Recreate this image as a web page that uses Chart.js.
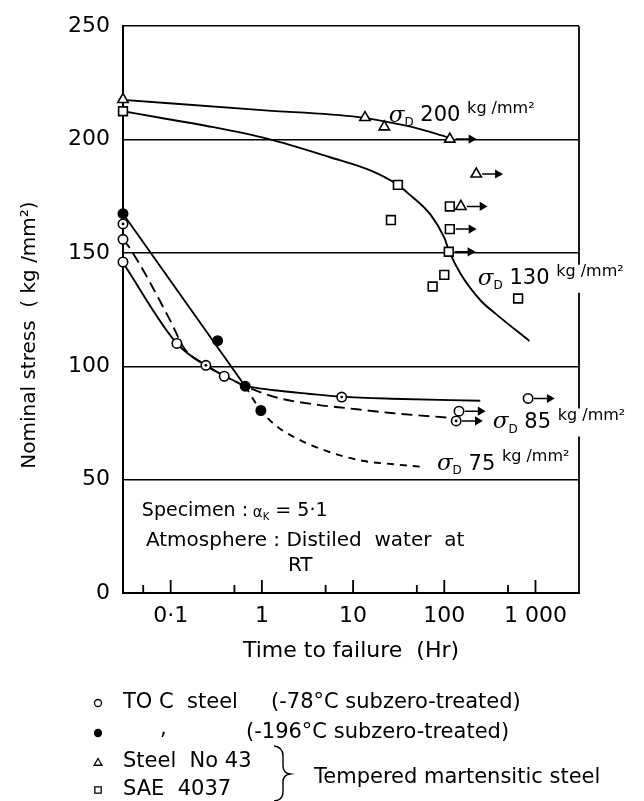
<!DOCTYPE html>
<html>
<head>
<meta charset="utf-8">
<title>Time to failure vs nominal stress</title>
<script src="https://cdn.jsdelivr.net/npm/chart.js@4.4.0/dist/chart.umd.min.js"></script>
<style>
  html, body { margin: 0; padding: 0; background: #fff; }
  #chart { display: block; }
</style>
</head>
<body>
<canvas id="chart" width="644" height="801"></canvas>
<script>
/* --------------- Axis ticks --------------------- */
const xTickValues = [0.1, 1, 10, 100, 1000];
const xTickLabels = ["0·1", "1", "10", "100", "1 000"];
const xMinorTicks = [0.05, 0.5, 5, 50, 500];

/* --------------- Measured points (time to failure Hr, stress kg/mm2) --------------------- */
// TO C steel, -78°C subzero-treated (open circles)
const toc78X = [0.03, 0.03, 0.117, 0.386, 830, 145];
const toc78Y = [156, 146, 110.1, 95.6, 85.8, 80.2];
const toc78Run = [0, 0, 0, 0, 1, 1];
// TO C steel, -196°C subzero-treated (filled circles)
const toc196X = [0.03, 0.327, 0.656, 0.975];
const toc196Y = [167.3, 111.3, 91.2, 80.5];
const toc196Run = [0, 0, 0, 0];
// both treatments at the same point (circle with a dot)
const tocBothX = [0.03, 0.243, 7.5, 135];
const tocBothY = [162.8, 100.4, 86.4, 75.9];
const tocBothRun = [0, 0, 0, 1];
// Steel No 43 (triangles)
const st43X = [0.03, 13.5, 22, 115, 224, 152];
const st43Y = [217.7, 209.7, 205.6, 200.2, 184.8, 170.5];
const st43Run = [0, 0, 0, 1, 1, 1];
// SAE 4037 (squares)
const saeX = [0.03, 31, 26, 115, 115, 112, 100, 74.5, 645];
const saeY = [212.5, 180, 164.5, 170.5, 160.5, 150.5, 140.3, 135.2, 129.9];
const saeRun = [0, 0, 0, 0, 1, 1, 0, 0, 0];

/* --------------- Drawn curves --------------------- */
const curve200X = [0.03, 1, 11.5, 25, 44, 109];
const curve200Y = [217.5, 213, 209.9, 207.6, 205.6, 201];
const curve130X = [0.03, 0.085, 0.25, 1.17, 5.6, 15.7, 31, 39.6, 71, 100, 113, 152, 252, 370, 856];
const curve130Y = [212.5, 209.3, 206, 200.3, 192.2, 186.3, 180, 176.5, 166.8, 156.7, 150.8, 140.6, 128.9, 123, 111.2];
const steep196X = [0.03, 0.656];
const steep196Y = [167.3, 91.2];
const tail196X = [0.656, 1.36, 3.2, 7.5, 26, 248];
const tail196Y = [91.2, 89.4, 87.9, 86.6, 85.7, 84.8];
const solid78X = [0.03, 0.117, 0.243, 0.4, 0.656];
const solid78Y = [145.6, 110, 100.4, 95.5, 91.2];
const dash85X = [0.03, 0.035, 0.1, 0.14, 0.243, 0.4, 0.656, 1.49, 4.1, 8.7, 26, 113];
const dash85Y = [156, 152.6, 119.8, 108, 100.4, 95.5, 91.2, 86.1, 83, 81.5, 79.4, 77.3];
const dash75X = [0.656, 0.975, 1.49, 2.7, 5.7, 13.2, 26, 55];
const dash75Y = [91.2, 80.5, 73.2, 67.2, 62, 58.2, 56.9, 55.7];

const FONT = "DejaVu Sans";
const pts = (xs, ys) => xs.map((x, i) => ({ x: x, y: ys[i] }));

/* --------------- Run-out arrows (not failed) --------------------- */
const arrowData = [];
[[toc78X, toc78Y, toc78Run], [toc196X, toc196Y, toc196Run], [tocBothX, tocBothY, tocBothRun],
 [st43X, st43Y, st43Run], [saeX, saeY, saeRun]].forEach(([xs, ys, run]) => {
  xs.forEach((x, i) => {
    if (!run[i]) return;
    arrowData.push({ x: x * 1.16, y: ys[i] }, { x: x * 1.72, y: ys[i] }, { x: x * 1.72, y: null });
  });
});

const curve = (xs, ys, dash) => ({
  data: pts(xs, ys), showLine: true, borderColor: "#000", borderWidth: 1.9,
  borderDash: dash || [], pointRadius: 0, cubicInterpolationMode: "monotone", order: 3
});
const marker = (xs, ys, style, fill, r) => ({
  data: pts(xs, ys), showLine: false, pointStyle: style, pointRadius: r, clip: false,
  backgroundColor: fill, borderColor: "#000", borderWidth: 1.6, order: 1
});

/* --------------- Text inside the plot --------------------- */
function drawRuns(ctx, x, y, runs, knockout) {
  ctx.textAlign = "left";
  ctx.textBaseline = "middle";
  let w = 0;
  runs.forEach(([t, f]) => { ctx.font = f; w += ctx.measureText(t).width; });
  if (knockout) { ctx.fillStyle = "#fff"; ctx.fillRect(x - 3, y - 14, w + 6, 28); }
  ctx.fillStyle = "#000";
  runs.forEach(([t, f, dy]) => { ctx.font = f; ctx.fillText(t, x, y + (dy || 0)); x += ctx.measureText(t).width; });
}
const sigmaRuns = (v) => [["σ", "italic 23px DejaVu Serif"], ["D", "12px " + FONT, 7],
  [" " + v + " ", "21px " + FONT], ["kg /mm²", "16px " + FONT, -7]];
const notes = [
  { x: 24.6, y: 210.5, runs: sigmaRuns("200") },
  { x: 233, y: 138.6, runs: sigmaRuns("130"), knockout: true },
  { x: 340, y: 75.2, runs: sigmaRuns("85"), knockout: true },
  { x: 83, y: 56.8, runs: sigmaRuns("75") },
  { x: 0.0483, y: 36.1, runs: [["Specimen :", "19px " + FONT], [" α", "15px " + FONT, 2], ["K", "10px " + FONT, 6], [" = 5·1", "19px " + FONT]] },
  { x: 0.0535, y: 23.1, runs: [["Atmosphere : Distiled  water  at", "20px " + FONT]] },
  { x: 1.93, y: 12.2, runs: [["RT", "20px " + FONT]] }
];

const paper = {
  id: "paper",
  beforeDatasetsDraw(chart) {
    const { ctx, chartArea: a, scales: { x } } = chart;
    ctx.save();
    ctx.strokeStyle = "#000";
    ctx.lineWidth = 1.8;
    ctx.beginPath();
    ctx.moveTo(a.right, a.top);
    ctx.lineTo(a.right, a.bottom);
    // ticks point up into the plot
    xTickValues.forEach((v) => { const p = x.getPixelForValue(v); ctx.moveTo(p, a.bottom); ctx.lineTo(p, a.bottom - 13); });
    xMinorTicks.forEach((v) => { const p = x.getPixelForValue(v); ctx.moveTo(p, a.bottom); ctx.lineTo(p, a.bottom - 8); });
    ctx.stroke();
    ctx.restore();
  },
  afterDatasetsDraw(chart) {
    const { ctx, scales: { x, y } } = chart;
    ctx.save();
    notes.forEach((n) => drawRuns(ctx, x.getPixelForValue(n.x), y.getPixelForValue(n.y), n.runs, n.knockout));
    ctx.restore();
  },
  afterDraw(chart) {
    const ctx = chart.ctx;
    ctx.save();
    ctx.fillStyle = "#000";
    ctx.textBaseline = "middle";
    // y axis title
    ctx.save();
    ctx.translate(30, 335);
    ctx.rotate(-Math.PI / 2);
    ctx.textAlign = "center";
    ctx.font = "20px " + FONT;
    ctx.fillText("Nominal stress  ( kg /mm²)", 0, 0);
    ctx.restore();
    // legend
    const dot = (style, fill, px, py, r) => {
      ctx.fillStyle = fill; ctx.strokeStyle = "#000"; ctx.lineWidth = 1.3;
      Chart.helpers.drawPoint(ctx, { pointStyle: style, radius: r, borderWidth: 1.3, rotation: 0 }, px, py);
      ctx.fillStyle = "#000";
    };
    ctx.textAlign = "left";
    ctx.font = "21px " + FONT;
    dot("circle", "#fff", 98, 703, 3.5);
    ctx.fillText("TO C  steel", 123, 703);
    ctx.fillText("(-78°C subzero-treated)", 271, 703);
    dot("circle", "#000", 98, 733, 3.5);
    ctx.fillText(",", 160, 730);
    ctx.fillText("(-196°C subzero-treated)", 246, 733);
    dot("triangle", "#fff", 98, 763, 4.5);
    ctx.fillText("Steel  No 43", 123, 762);
    dot("rect", "#fff", 98, 790, 4.5);
    ctx.fillText("SAE  4037", 123, 790);
    ctx.fillText("Tempered martensitic steel", 314, 778);
    // brace joining the two steels
    ctx.lineWidth = 1.4;
    ctx.beginPath();
    ctx.moveTo(274, 746);
    ctx.quadraticCurveTo(283, 747, 283, 756);
    ctx.lineTo(283, 766);
    ctx.quadraticCurveTo(283, 773, 290, 774);
    ctx.quadraticCurveTo(283, 775, 283, 782);
    ctx.lineTo(283, 792);
    ctx.quadraticCurveTo(283, 800, 274, 801);
    ctx.stroke();
    ctx.restore();
  }
};

/* --------------- Chart --------------------- */
const chart = new Chart(document.getElementById("chart"), {
  type: "scatter",
  plugins: [paper],
  data: {
    datasets: [
      // centre dots of the combined points, drawn on top
      { data: pts(tocBothX, tocBothY), showLine: false, pointStyle: "circle", pointRadius: 1.4, clip: false,
        backgroundColor: "#000", borderColor: "#000", borderWidth: 0, order: 0 },
      marker(toc78X, toc78Y, "circle", "#fff", 4.7),
      marker(toc196X, toc196Y, "circle", "#000", 4.7),
      marker(tocBothX, tocBothY, "circle", "#fff", 4.7),
      marker(st43X, st43Y, "triangle", "#fff", 6),
      marker(saeX, saeY, "rect", "#fff", 6.2),
      {
        data: arrowData, showLine: true, spanGaps: false, borderColor: "#000", borderWidth: 1.5,
        backgroundColor: "#000", pointStyle: "triangle", pointRotation: 90, clip: false,
        pointRadius: (c) => (c.dataIndex % 3 === 1 ? 3.8 : 0), order: 2
      },
      curve(curve200X, curve200Y),
      curve(curve130X, curve130Y),
      curve(steep196X, steep196Y),
      curve(tail196X, tail196Y),
      curve(solid78X, solid78Y),
      curve(dash85X, dash85Y, [11, 6]),
      curve(dash75X, dash75Y, [7, 6])
    ]
  },
  options: {
    responsive: false,
    animation: false,
    devicePixelRatio: 1,
    events: [],
    layout: { padding: { left: 0, right: 65, top: 20, bottom: 133 } },
    plugins: { legend: { display: false }, tooltip: { enabled: false } },
    scales: {
      x: {
        type: "logarithmic",
        min: 0.03,
        max: 3000,
        grid: { display: false, drawTicks: false },
        border: { display: true, color: "#000", width: 2 },
        afterBuildTicks: (s) => { s.ticks = xTickValues.map((v) => ({ value: v })); },
        afterFit: (s) => { s.height = 75; },
        ticks: {
          autoSkip: false, maxRotation: 0, padding: 10, color: "#000",
          font: { family: FONT, size: 22 },
          callback: (v, i) => xTickLabels[i]
        },
        title: {
          display: true, text: "Time to failure  (Hr)", color: "#000",
          font: { family: FONT, size: 22 }, padding: { bottom: 4 }
        }
      },
      y: {
        min: 0,
        max: 250,
        afterFit: (s) => { s.width = 123; },
        grid: { color: "#000", lineWidth: 1.5, drawTicks: false },
        border: { display: true, color: "#000", width: 2 },
        ticks: { stepSize: 50, padding: 13, color: "#000", font: { family: FONT, size: 22 } }
      }
    }
  }
});
</script>
</body>
</html>
